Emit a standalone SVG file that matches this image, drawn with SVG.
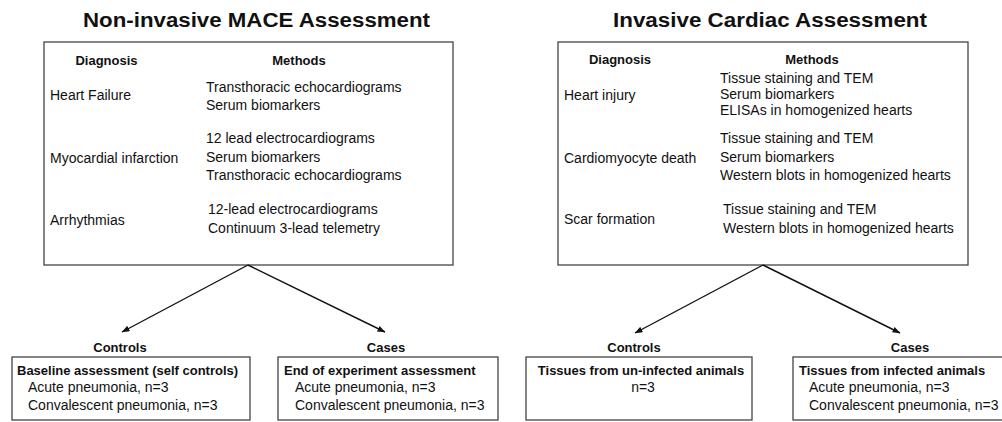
<svg xmlns="http://www.w3.org/2000/svg" width="1002" height="422" viewBox="0 0 1002 422">
<style>
text{font-family:"Liberation Sans",Arial,sans-serif;fill:#111;}
.t{font-size:20px;font-weight:bold;}
.h{font-size:13px;font-weight:bold;}
.b{font-size:14px;}
.box{fill:#fff;stroke:#444;stroke-width:1.3;}
.conn{stroke:#111;stroke-width:1.4;fill:none;marker-end:url(#arr);}
</style>
<defs>
<marker id="arr" markerUnits="userSpaceOnUse" markerWidth="8" markerHeight="6" refX="7.5" refY="3" orient="auto">
<path d="M0,0 L8,3 L0,6 z" fill="#111"/>
</marker>
</defs>
<rect width="1002" height="422" fill="#fff"/>
<g id="title-left"><text class="t" x="83" y="27" textLength="347" lengthAdjust="spacingAndGlyphs">Non-invasive MACE Assessment</text></g>
<g id="title-right"><text class="t" x="613" y="27" textLength="314" lengthAdjust="spacingAndGlyphs">Invasive Cardiac Assessment</text></g>

<g id="noninvasive-box">
<rect class="box" x="44" y="42" width="409" height="223"/>
<text class="h" x="106.5" y="65" text-anchor="middle">Diagnosis</text>
<text class="h" x="299" y="65" text-anchor="middle">Methods</text>
<text class="b" x="50" y="100">Heart Failure</text>
<text class="b" x="206" y="92">Transthoracic echocardiograms</text>
<text class="b" x="206" y="110">Serum biomarkers</text>
<text class="b" x="50" y="163">Myocardial infarction</text>
<text class="b" x="206" y="143">12 lead electrocardiograms</text>
<text class="b" x="206" y="162">Serum biomarkers</text>
<text class="b" x="206" y="180">Transthoracic echocardiograms</text>
<text class="b" x="50" y="225">Arrhythmias</text>
<text class="b" x="208" y="214">12-lead electrocardiograms</text>
<text class="b" x="208" y="233">Continuum 3-lead telemetry</text>
</g>

<g id="invasive-box">
<rect class="box" x="558" y="42" width="410" height="223"/>
<text class="h" x="620" y="64" text-anchor="middle">Diagnosis</text>
<text class="h" x="812" y="64" text-anchor="middle">Methods</text>
<text class="b" x="564" y="100">Heart injury</text>
<text class="b" x="720" y="83">Tissue staining and TEM</text>
<text class="b" x="720" y="99">Serum biomarkers</text>
<text class="b" x="720" y="115">ELISAs in homogenized hearts</text>
<text class="b" x="564" y="163">Cardiomyocyte death</text>
<text class="b" x="720" y="143">Tissue staining and TEM</text>
<text class="b" x="720" y="162">Serum biomarkers</text>
<text class="b" x="720" y="180">Western blots in homogenized hearts</text>
<text class="b" x="564" y="224">Scar formation</text>
<text class="b" x="723" y="214">Tissue staining and TEM</text>
<text class="b" x="723" y="233">Western blots in homogenized hearts</text>
</g>

<g id="connectors">
<line class="conn" x1="248" y1="265" x2="122" y2="332"/>
<line class="conn" x1="248" y1="265" x2="385" y2="332"/>
<line class="conn" x1="763" y1="265" x2="635" y2="333"/>
<line class="conn" x1="763" y1="265" x2="900" y2="333"/>
</g>

<g id="controls-left">
<text class="h" x="120" y="352" text-anchor="middle">Controls</text>
<rect class="box" x="12" y="357" width="238" height="63"/>
<text class="h" x="17" y="375">Baseline assessment (self controls)</text>
<text class="b" x="28" y="392">Acute pneumonia, n=3</text>
<text class="b" x="28" y="410">Convalescent pneumonia, n=3</text>
</g>

<g id="cases-left">
<text class="h" x="386" y="352" text-anchor="middle">Cases</text>
<rect class="box" x="278" y="357" width="220" height="63"/>
<text class="h" x="284" y="375">End of experiment assessment</text>
<text class="b" x="295" y="392">Acute pneumonia, n=3</text>
<text class="b" x="295" y="410">Convalescent pneumonia, n=3</text>
</g>

<g id="controls-right">
<text class="h" x="634" y="352" text-anchor="middle">Controls</text>
<rect class="box" x="526" y="357" width="226" height="63"/>
<text class="h" x="641" y="375" text-anchor="middle">Tissues from un-infected animals</text>
<text class="b" x="643" y="392" text-anchor="middle">n=3</text>
</g>

<g id="cases-right">
<text class="h" x="910" y="352" text-anchor="middle">Cases</text>
<rect class="box" x="793" y="357" width="212" height="63"/>
<text class="h" x="799" y="375">Tissues from infected animals</text>
<text class="b" x="809" y="392">Acute pneumonia, n=3</text>
<text class="b" x="809" y="410">Convalescent pneumonia, n=3</text>
</g>
</svg>
